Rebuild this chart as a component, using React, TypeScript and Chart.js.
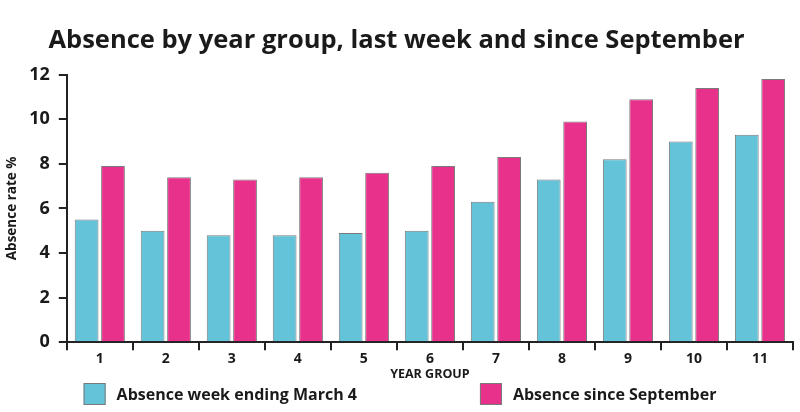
import React, { useEffect, useRef } from "react";
import { Chart, registerables } from "chart.js";

Chart.register(...registerables);

const yearGroups = ["1", "2", "3", "4", "5", "6", "7", "8", "9", "10", "11"];
const weekEndingMarch4 = [5.5, 5.0, 4.8, 4.8, 4.9, 5.0, 6.3, 7.3, 8.2, 9.0, 9.3];
const sinceSeptember = [7.9, 7.4, 7.3, 7.4, 7.6, 7.9, 8.3, 9.9, 10.9, 11.4, 11.8];

const FONT = "'Open Sans', sans-serif";
const BORDER = "#7a7a7a";
const INK = "#1a1a1a";

const bottomLegend = {
  id: "bottomLegend",
  afterDraw(chart: any) {
    const ctx = chart.ctx;
    const box = 22;
    const gapText = 11;
    const gapItems = 123;
    const y = chart.height - 29;
    ctx.save();
    ctx.font = `bold 16px ${FONT}`;
    const items = chart.data.datasets.map((d: any) => ({
      label: d.label as string,
      color: d.backgroundColor as string,
      w: ctx.measureText(d.label).width,
    }));
    const total =
      items.reduce((s: number, it: any) => s + box + gapText + it.w, 0) +
      gapItems * (items.length - 1);
    let x = chart.width / 2 - total / 2;
    for (const it of items) {
      ctx.fillStyle = it.color;
      ctx.fillRect(x, y, box, box);
      ctx.strokeStyle = BORDER;
      ctx.lineWidth = 1;
      ctx.strokeRect(x + 0.5, y + 0.5, box - 1, box - 1);
      ctx.fillStyle = INK;
      ctx.textBaseline = "middle";
      ctx.textAlign = "left";
      ctx.fillText(it.label, x + box + gapText, y + box / 2 + 1);
      x += box + gapText + it.w + gapItems;
    }
    ctx.restore();
  },
};

export default function App() {
  const ref = useRef<HTMLCanvasElement | null>(null);

  useEffect(() => {
    if (!ref.current) return;
    const chart = new Chart(ref.current, {
      type: "bar",
      data: {
        labels: yearGroups,
        datasets: [
          {
            label: "Absence week ending March 4",
            data: weekEndingMarch4,
            backgroundColor: "#63c3d9",
            borderColor: BORDER,
            borderWidth: 1,
            barPercentage: 0.9,
            categoryPercentage: 0.8,
          },
          {
            label: "Absence since September",
            data: sinceSeptember,
            backgroundColor: "#e8318a",
            borderColor: BORDER,
            borderWidth: 1,
            barPercentage: 0.9,
            categoryPercentage: 0.8,
          },
        ],
      },
      plugins: [bottomLegend],
      options: {
        animation: false,
        responsive: false,
        maintainAspectRatio: false,
        layout: { padding: { left: 0, right: 7, top: 0, bottom: 30 } },
        plugins: {
          title: {
            display: true,
            text: "Absence by year group, last week and since September",
            color: INK,
            font: { family: FONT, size: 25.5, weight: "bold" },
            padding: { top: 25, bottom: 19 },
          },
          legend: { display: false },
          tooltip: { enabled: false },
        },
        scales: {
          x: {
            grid: {
              drawOnChartArea: false,
              drawTicks: true,
              tickLength: 8,
              color: "#222",
              lineWidth: 2,
              offset: true,
            },
            border: { color: "#222", width: 2 },
            ticks: {
              color: INK,
              font: { family: FONT, size: 14, weight: "bold" },
              padding: 0,
            },
            title: {
              display: true,
              text: "YEAR GROUP",
              color: INK,
              font: { family: FONT, size: 12.5, weight: "bold" },
              padding: { top: 0, bottom: 0 },
            },
          },
          y: {
            min: 0,
            max: 12,
            grid: {
              drawOnChartArea: false,
              drawTicks: true,
              tickLength: 8,
              color: "#222",
              lineWidth: 2,
            },
            border: { color: "#222", width: 2 },
            ticks: {
              stepSize: 2,
              color: INK,
              font: { family: FONT, size: 18, weight: "bold" },
              padding: 9,
            },
            title: {
              display: true,
              text: "Absence rate %",
              color: INK,
              font: { family: FONT, size: 13.5, weight: "bold" },
              padding: { top: 4, bottom: 0 },
            },
          },
        },
      },
    });
    return () => chart.destroy();
  }, []);

  return (
    <div style={{ position: "absolute", left: 0, top: 0, width: 800, height: 412, background: "#fff" }}>
      <canvas ref={ref} width={800} height={412} style={{ width: 800, height: 412 }} />
    </div>
  );
}
